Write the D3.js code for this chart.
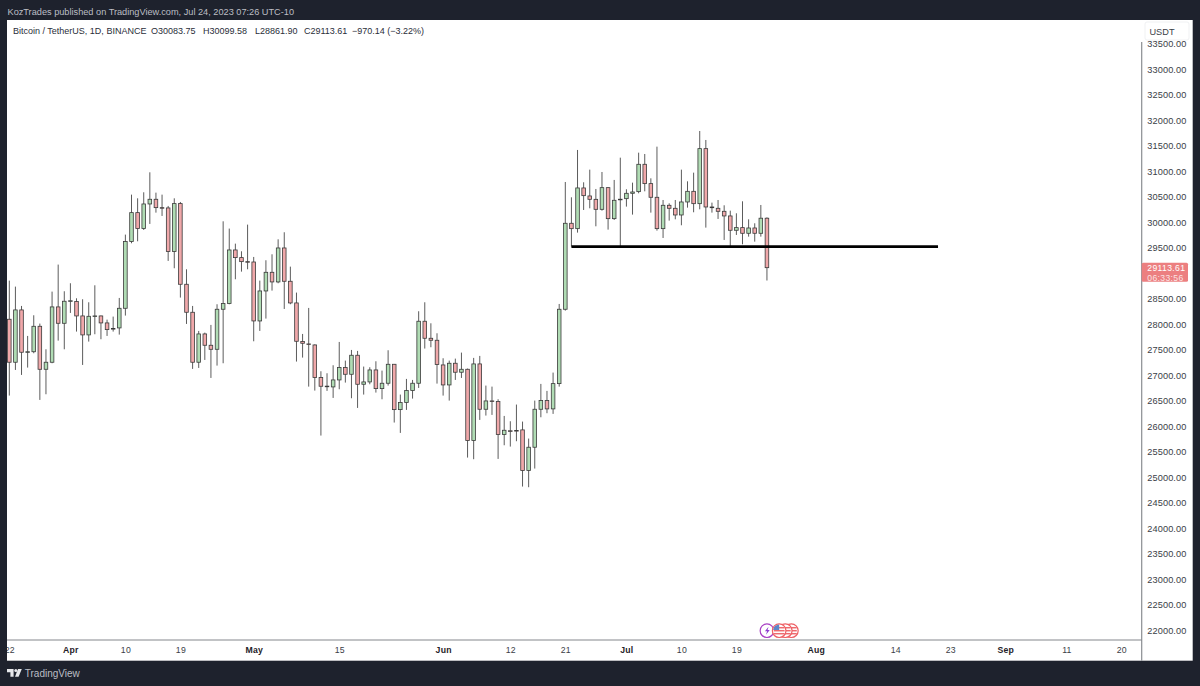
<!DOCTYPE html>
<html>
<head>
<meta charset="utf-8">
<script src="https://cdn.jsdelivr.net/npm/d3@7"></script>
<style>
  body { margin: 0; background: #1e222d; }
  svg { display: block; font-family: "Liberation Sans", Arial, sans-serif; }
  text { white-space: pre; }
</style>
</head>
<body>
<svg id="chart" width="1200" height="686"></svg>
<script>
// daily candles, first one is Mar 22 2023, last one is Jul 24 2023
var opens = [
  28102,27259,28285,27455,27465,27964,27121,27259,28344,28023,
  28455,28450,28167,27795,28160,28167,28030,27920,27932,28317,
  29625,30193,29880,30363,30455,30291,30285,29429,30370,28788,
  28239,27259,27814,27592,27513,28298,28409,29461,29311,29232,
  29225,28069,28657,29023,28834,29500,28847,28422,27664,27618,
  27598,26958,26790,26775,26912,27154,27023,27396,26827,26873,
  27108,26742,26847,27219,26330,26468,26703,26847,28063,27729,
  27690,27206,26814,27239,27063,27121,25723,27226,26337,26500,
  26490,25840,25915,25920,25932,25134,25592,26337,26507,26344,
  26840,28298,29984,29879,30677,30520,30454,30258,30683,30075,
  30445,30467,30572,30605,31141,30762,30494,29879,30337,30278,
  30147,30402,30611,30369,31448,30304,30278,30219,30128,29847,
  29899,29788,29892,29788,30083.75];
var closes = [
  27259,28285,27455,27465,27964,27121,27259,28344,28023,28455,
  28465,28167,27795,28160,28167,28030,27899,27910,28317,29625,
  30193,29880,30363,30455,30291,30285,29429,30370,28788,28239,
  27259,27814,27592,27513,28298,28409,29461,29311,29232,29225,
  28069,28657,29023,28834,29500,28847,28422,27670,27631,27612,
  26958,26788,26781,26912,27154,27023,27396,26827,26873,27108,
  26742,26847,27219,26330,26468,26703,26847,28063,27729,27690,
  27213,26814,27239,27063,27121,25723,27226,26337,26500,26490,
  25840,25925,25912,25918,25134,25592,26337,26507,26344,26840,
  28298,29984,29879,30677,30526,30454,30258,30683,30075,30435,
  30456,30572,30598,31141,30762,30494,29879,30337,30278,30147,
  30402,30611,30369,31448,30304,30290,30219,30128,29847,29899,
  29788,29892,29788,30083.75,29113.61];
var highs = [
  28860,28742,28363,27775,28180,28017,27513,28644,29174,28651,
  28808,28513,28494,28435,28768,28174,28095,28154,28520,29762,
  30546,30474,30592,30984,30585,30546,30324,30474,30402,29082,
  28363,27873,27840,27991,28396,30023,29880,29585,29435,29958,
  29324,28860,29259,29376,29670,29808,29134,28625,27814,28324,
  27610,27082,27043,27200,27657,27291,27500,27481,27174,27161,
  27278,27095,27494,27225,26625,26932,26912,28259,28435,28023,
  27827,27337,27291,27330,27448,27135,27344,27383,26801,26781,
  26533,26206,26102,26429,26095,25762,26507,26834,26697,27056,
  28402,30794,30494,31422,30788,31036,30657,30990,30690,30834,
  31271,30651,30781,31369,31343,30866,31487,30441,30376,30441,
  31036,30807,30977,31794,31618,30389,30441,30337,30232,30180,
  30415,30062,29984,30343,30099.58];
var lows = [
  26605,27108,27010,27154,27435,26520,26631,27239,27683,27513,
  28226,27860,27206,27664,27808,27710,27775,27860,27801,28174,
  29592,29631,29853,29971,30193,30128,29246,29102,28527,28010,
  27128,27147,27304,26951,27193,27239,28396,28886,29036,29082,
  27670,27873,28115,28664,28808,28304,28396,27272,27350,26781,
  26703,25821,26697,26559,26729,26860,26553,26363,26625,26827,
  26664,26533,26801,26076,25873,26324,26546,26755,27527,27553,
  26840,26605,26507,26912,26951,25389,25357,26128,26213,26226,
  25363,25631,25605,25710,24821,24808,25174,26180,26259,26246,
  26781,28271,29526,29801,30245,30278,29925,30232,29860,30049,
  29526,30311,30154,30572,30611,30193,29840,29696,30036,30062,
  29945,30291,30200,30258,29899,30193,30069,29657,29526,29755,
  29572,29722,29624,29722,28861.90];

// 29000 is hidden behind the last price tag in the picture
var priceTicks = [22000,22500,23000,23500,24000,24500,25000,25500,26000,26500,27000,27500,
  28000,28500,29500,30000,30500,31000,31500,32000,32500,33000,33500];

// time axis, position is days since the first candle
var timeTickDays = [0,10,19,28,40,54,71,82,91,101,110,119,132,145,154,163,173,182];
var timeTickLabels = ["22","Apr","10","19","May","15","Jun","12","21","Jul","10","19","Aug","14","23","Sep","11","20"];
var monthLabels = ["Apr","May","Jun","Jul","Aug","Sep"];

// hand drawn support line
var levelPrice = 29527;
var levelStartDay = 92;
var levelEndDay = 152;

// events under the chart: first one is the lightning, the rest are flags
var eventDays = [124,126,127,128];

var lastPrice = 29113.61;
var lastPriceText = "29113.61";
var countdownText = "06:33:56";

var legendParts = ["Bitcoin / TetherUS, 1D, BINANCE","O30083.75","H30099.58","L28861.90","C29113.61","\u2212970.14 (\u22123.22%)"];
var legendStarts = [13, 151, 203, 255, 304, 352];

var panelLeft = 7, panelTop = 20, panelRight = 1192.7, panelBottom = 660.7;
var axisX = 1141.7, timeAxisY = 640;

var svg = d3.select("#chart");

var x = d3.scaleLinear().domain([0, 124]).range([9.3, 9.3 + 124 * 6.11]);
var y = d3.scaleLinear().domain([22000, 33000]).range([630.4, 69.5]);

svg.append("rect").attr("width", 1200).attr("height", 686).attr("fill", "#1e222d");
svg.append("rect")
  .attr("x", panelLeft).attr("y", panelTop)
  .attr("width", panelRight - panelLeft).attr("height", panelBottom - panelTop)
  .attr("fill", "#fff");

var defs = svg.append("defs");
defs.append("clipPath").attr("id", "plotClip").append("rect")
  .attr("x", panelLeft).attr("y", panelTop)
  .attr("width", axisX - panelLeft).attr("height", timeAxisY - panelTop);
defs.append("clipPath").attr("id", "timeClip").append("rect")
  .attr("x", panelLeft).attr("y", timeAxisY)
  .attr("width", axisX - panelLeft).attr("height", panelBottom - timeAxisY);
defs.append("clipPath").attr("id", "priceClip").append("rect")
  .attr("x", axisX).attr("y", 41)
  .attr("width", panelRight - axisX).attr("height", timeAxisY - 41);

// candles
var plot = svg.append("g").attr("clip-path", "url(#plotClip)");
var candle = plot.selectAll("g.candle")
  .data(d3.range(opens.length))
  .join("g")
  .attr("class", "candle");

candle.append("line")
  .attr("x1", i => x(i)).attr("x2", i => x(i))
  .attr("y1", i => y(highs[i])).attr("y2", i => y(lows[i]))
  .attr("stroke", "#5c5c5c")
  .attr("stroke-width", 1);

candle.append("rect")
  .attr("x", i => x(i) - 1.8)
  .attr("width", 3.6)
  .attr("y", i => y(Math.max(opens[i], closes[i])))
  .attr("height", i => Math.max(0.6, Math.abs(y(opens[i]) - y(closes[i]))))
  .attr("fill", i => closes[i] >= opens[i] ? "#b0dcb4" : "#f0a8aa")
  .attr("stroke", "#3a3a3a")
  .attr("stroke-width", 0.8);

// support line
plot.append("line")
  .attr("x1", x(levelStartDay)).attr("x2", x(levelEndDay))
  .attr("y1", y(levelPrice)).attr("y2", y(levelPrice))
  .attr("stroke", "#000")
  .attr("stroke-width", 2.6);

// events, the flag closest to the lightning sits on top
var eventY = 630.7;
var eventGroup = svg.append("g");
[eventDays[0], eventDays[3], eventDays[2], eventDays[1]].forEach(function (d) {
  var cx = x(d);
  var isBolt = d === eventDays[0];
  var g = eventGroup.append("g");
  g.append("circle").attr("cx", cx).attr("cy", eventY).attr("r", 6.8)
    .attr("fill", "#fff")
    .attr("stroke", isBolt ? "#a83fc4" : "#ee5f64")
    .attr("stroke-width", 1.2);
  if (isBolt) {
    g.append("path")
      .attr("d", "M" + (cx + 1.6) + " " + (eventY - 4) + "l-3.6 4.6h2.2l-1.2 3.4 3.8-4.8h-2.2z")
      .attr("fill", "#8e3bd0");
  } else {
    [-3, 0, 3].forEach(function (dy) {
      g.append("line")
        .attr("x1", cx - 5.4).attr("x2", cx + 5.4)
        .attr("y1", eventY + dy).attr("y2", eventY + dy)
        .attr("stroke", "#ee6a6e").attr("stroke-width", 1.5);
    });
    if (d === eventDays[1]) {
      g.append("path")
        .attr("d", "M" + (cx - 6) + " " + (eventY - 0.8) + "a6 6 0 0 1 6-5.4v5.4z")
        .attr("fill", "#5b86c9");
    }
  }
});

// price axis
var priceAxis = d3.axisRight(y)
  .tickValues(priceTicks)
  .tickFormat(d3.format(".2f"))
  .tickSize(0)
  .tickPadding(5.6);

svg.append("g")
  .attr("clip-path", "url(#priceClip)")
  .append("g")
  .attr("transform", "translate(" + axisX + ",0)")
  .call(priceAxis)
  .call(g => g.select(".domain").remove())
  .call(g => g.selectAll("text")
    .attr("font-family", "'Liberation Sans', Arial, sans-serif")
    .attr("font-size", 9.2)
    .attr("letter-spacing", 0.1)
    .attr("fill", "#3a3e46"));

svg.append("line")
  .attr("x1", axisX).attr("x2", axisX)
  .attr("y1", 42).attr("y2", panelBottom)
  .attr("stroke", "#8a8d92").attr("stroke-width", 1.2);

svg.append("line")
  .attr("x1", panelLeft).attr("x2", axisX)
  .attr("y1", timeAxisY).attr("y2", timeAxisY)
  .attr("stroke", "#84878c").attr("stroke-width", 1);

svg.append("rect")
  .attr("x", 1145).attr("y", 22).attr("width", 44).attr("height", 18)
  .attr("rx", 2)
  .attr("fill", "#fff").attr("stroke", "#f0f1f3");
svg.append("text")
  .attr("x", 1162).attr("y", 34.5)
  .attr("text-anchor", "middle")
  .attr("font-size", 9.2)
  .attr("fill", "#3a3e46")
  .text("USDT");

// last price tag
var tagY = y(lastPrice);
svg.append("rect")
  .attr("x", axisX).attr("y", tagY - 5)
  .attr("width", 46.3).attr("height", 19)
  .attr("rx", 1.5)
  .attr("fill", "#ec7f80");
svg.append("text")
  .attr("x", 1147.3).attr("y", tagY + 3.2)
  .attr("font-size", 8.6).attr("letter-spacing", 0.35)
  .attr("fill", "#fff")
  .text(lastPriceText);
svg.append("text")
  .attr("x", 1147.3).attr("y", tagY + 13)
  .attr("font-size", 8.6).attr("letter-spacing", 0.35)
  .attr("fill", "#fbe3e3")
  .text(countdownText);

// time axis
var timeAxis = d3.axisBottom(x)
  .tickValues(timeTickDays)
  .tickFormat((d, i) => timeTickLabels[i])
  .tickSize(0)
  .tickPadding(6.4);

svg.append("g")
  .attr("clip-path", "url(#timeClip)")
  .append("g")
  .attr("transform", "translate(0," + timeAxisY + ")")
  .call(timeAxis)
  .call(g => g.select(".domain").remove())
  .call(g => g.selectAll("text")
    .attr("font-family", "'Liberation Sans', Arial, sans-serif")
    .attr("font-size", 8.7)
    .attr("letter-spacing", 0.2)
    .attr("font-weight", (d, i) => monthLabels.indexOf(timeTickLabels[i]) >= 0 ? "bold" : "normal")
    .attr("fill", (d, i) => monthLabels.indexOf(timeTickLabels[i]) >= 0 ? "#1f2228" : "#3a3e46"));

// header and legend
svg.append("text")
  .attr("x", 7.5).attr("y", 14.6)
  .attr("font-size", 9.2)
  .attr("fill", "#bcbec4")
  .text("KozTrades published on TradingView.com, Jul 24, 2023 07:26 UTC-10");

svg.selectAll("text.legend")
  .data(legendParts)
  .join("text")
  .attr("class", "legend")
  .attr("x", (d, i) => legendStarts[i])
  .attr("y", 34.2)
  .attr("font-size", 9)
  .attr("fill", "#2a2e39")
  .text(d => d);

// footer logo and name
var logo = svg.append("g").attr("transform", "translate(7,669)").attr("fill", "#e6e7ea");
logo.append("path").attr("d", "M0 0h6.6v7.8h-3.2v-4.6h-3.4z");
logo.append("circle").attr("cx", 8.8).attr("cy", 1.6).attr("r", 1.5);
logo.append("path").attr("d", "M11 0h3.8l-3.2 7.8h-3.6z");

svg.append("text")
  .attr("x", 24.8).attr("y", 677)
  .attr("font-size", 10)
  .attr("fill", "#bcbec4")
  .text("TradingView");
</script>
</body>
</html>
